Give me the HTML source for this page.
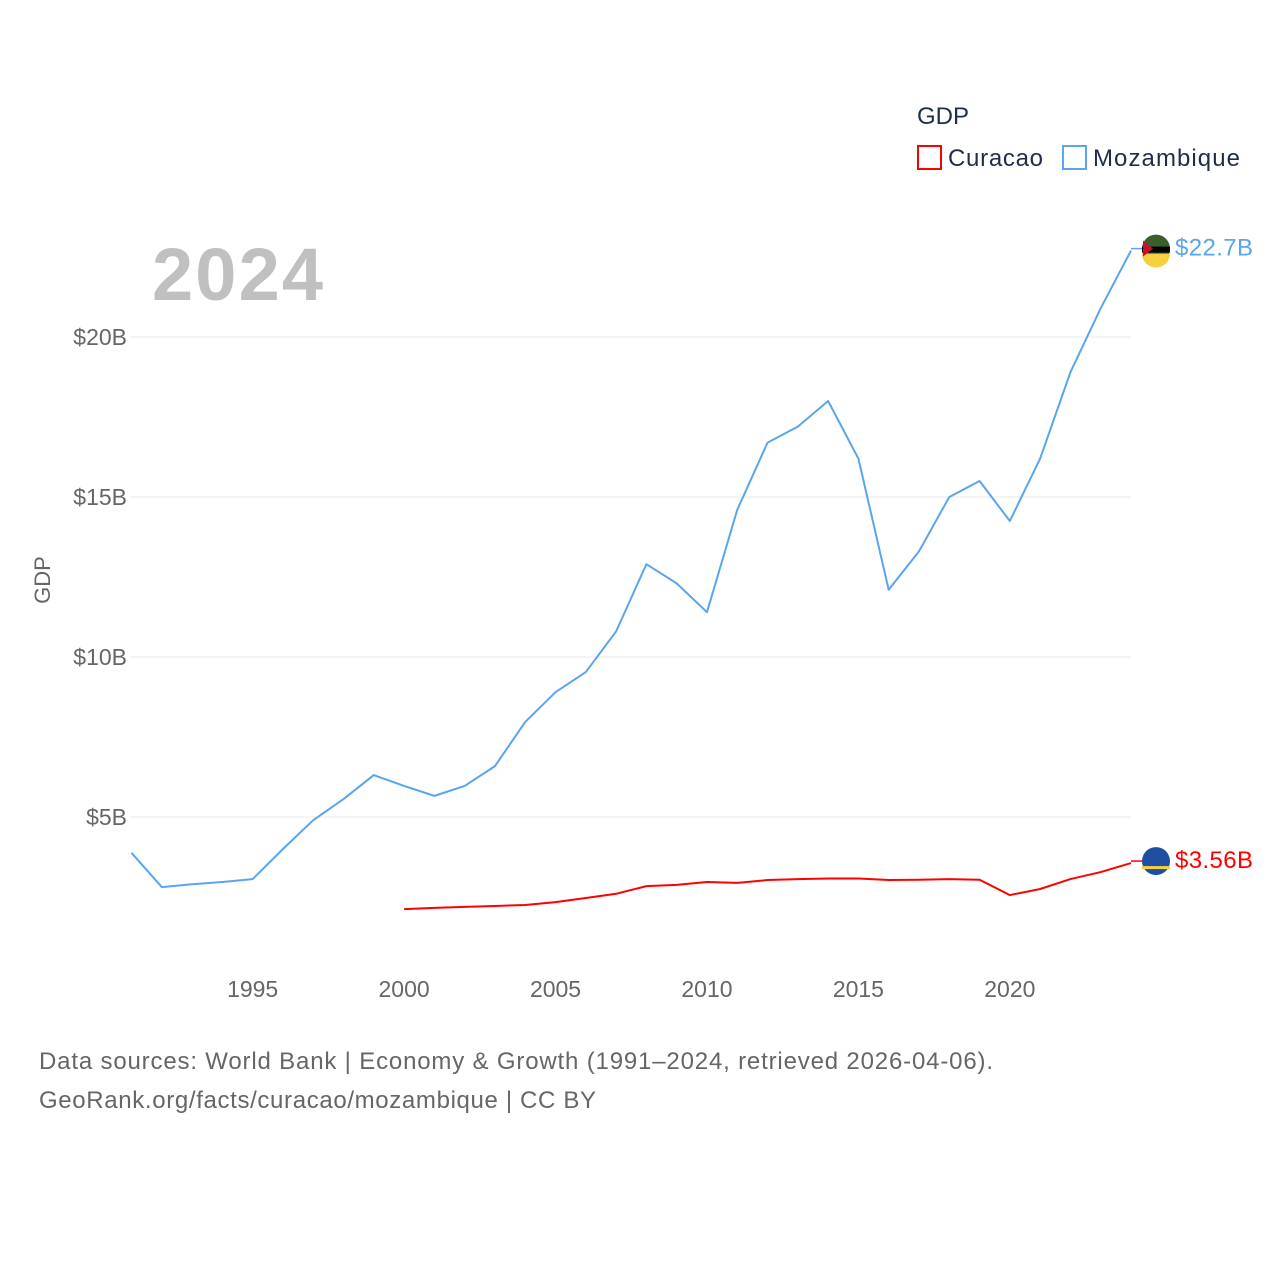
<!DOCTYPE html>
<html><head><meta charset="utf-8"><style>
html,body{margin:0;padding:0;background:#fff;}
body{width:1280px;height:1280px;overflow:hidden;font-family:"Liberation Sans",sans-serif;}
</style></head><body>
<svg id="chart" width="1280" height="1280" viewBox="0 0 1280 1280">
<text x="917" y="124" font-size="24" fill="#1f2d4d">GDP</text>
<g><rect x="918" y="146" width="23" height="23" fill="none" stroke="#ff0000" stroke-width="2"/><text x="948" y="166" font-size="24" fill="#1f2d4d" textLength="95">Curacao</text></g>
<g><rect x="1063" y="146" width="23" height="23" fill="none" stroke="#5aa5ec" stroke-width="2"/><text x="1093" y="166" font-size="24" fill="#1f2d4d" textLength="147">Mozambique</text></g>
<text x="152" y="300" font-size="74" font-weight="bold" fill="#c0c0c0" textLength="171">2024</text>
<text transform="translate(50,580) rotate(-90)" text-anchor="middle" font-size="22" fill="#666">GDP</text>
<g id="grid"></g><g id="yt"></g><g id="xt"></g><g id="lines"></g>
<text x="39" y="1069" font-size="24" fill="#666" textLength="954">Data sources: World Bank | Economy &amp; Growth (1991–2024, retrieved 2026-04-06).</text>
<text x="39" y="1108" font-size="24" fill="#666" textLength="557">GeoRank.org/facts/curacao/mozambique | CC BY</text>
</svg>
<script>
const yTicks=[5,10,15,20];
const yTickLabels=["$5B","$10B","$15B","$20B"];
const xTicks=[1995,2000,2005,2010,2015,2020];
const mozYears=[1991,1992,1993,1994,1995,1996,1997,1998,1999,2000,2001,2002,2003,2004,2005,2006,2007,2008,2009,2010,2011,2012,2013,2014,2015,2016,2017,2018,2019,2020,2021,2022,2023,2024];
const mozValues=[3.88,2.81,2.9,2.97,3.06,4.0,4.9,5.56,6.31,5.97,5.66,5.97,6.59,7.97,8.9,9.53,10.8,12.9,12.3,11.4,14.6,16.7,17.2,18.0,16.2,12.1,13.3,15.0,15.5,14.25,16.2,18.9,20.9,22.7];
const curYears=[2000,2001,2002,2003,2004,2005,2006,2007,2008,2009,2010,2011,2012,2013,2014,2015,2016,2017,2018,2019,2020,2021,2022,2023,2024];
const curValues=[2.12,2.16,2.19,2.22,2.25,2.34,2.47,2.6,2.84,2.88,2.97,2.94,3.03,3.06,3.08,3.08,3.03,3.04,3.06,3.04,2.56,2.75,3.06,3.28,3.56];
const NS="http://www.w3.org/2000/svg";
const xS=y=>131.5+(y-1991)*(1131-131.5)/33;
const yS=v=>977-v*32;
function mk(t,a,p){const e=document.createElementNS(NS,t);for(const k in a)e.setAttribute(k,a[k]);p.appendChild(e);return e;}
const grid=document.getElementById('grid'),yt=document.getElementById('yt'),xt=document.getElementById('xt'),lines=document.getElementById('lines');
yTicks.forEach((v,i)=>{
 const l=mk('line',{x1:131,x2:1131,y1:yS(v),y2:yS(v),stroke:'#e8e8e8','stroke-width':1},grid);
 
 
 const t=mk('text',{x:127,y:yS(v)+8,'text-anchor':'end','font-size':23,fill:'#666'},yt);
 t.textContent=yTickLabels[i];
 
 
});
xTicks.forEach(y=>{
 const t=mk('text',{x:xS(y),y:997,'text-anchor':'middle','font-size':23,fill:'#666'},xt);
 t.textContent=y;
 
 
});
function series(ys,vs,col,name,label){
 const p=mk('polyline',{points:ys.map((y,i)=>xS(y)+','+yS(vs[i])).join(' '),fill:'none',stroke:col,'stroke-width':2,'stroke-linejoin':'round'},lines);
 
 
 const lx=xS(ys[ys.length-1]),ly=yS(vs[vs.length-1])-2;
 mk('line',{x1:lx,x2:lx+12,y1:ly,y2:ly,stroke:col,'stroke-width':1.5},lines);
 const c=mk('circle',{cx:lx+25,cy:ly,r:14,fill:name==='mozambique'?'#3a5f2a':'#1f4fa0'},lines);
 
 
 if(name==='mozambique'){mk('rect',{x:lx+11,y:ly-2,width:28,height:6,fill:'#000'},lines);mk('path',{d:`M${lx+11} ${ly+5} A14 14 0 0 0 ${lx+39} ${ly+5} Z`,fill:'#f5d040'},lines);mk('path',{d:`M${lx+12} ${ly-8} L${lx+22} ${ly} L${lx+12} ${ly+8} Z`,fill:'#c8102e'},lines);}
 else{mk('rect',{x:lx+11,y:ly+5,width:28,height:3,fill:'#f5d040'},lines);}
 const t=mk('text',{x:lx+44,y:ly+7,'font-size':24,fill:col,textLength:78},lines);
 t.textContent=label;
 
 
}
series(mozYears,mozValues,'#5aa5ec','mozambique','$'+mozValues[mozValues.length-1]+'B');
series(curYears,curValues,'#ff0000','curacao','$'+curValues[curValues.length-1]+'B');
</script>
</body></html>
